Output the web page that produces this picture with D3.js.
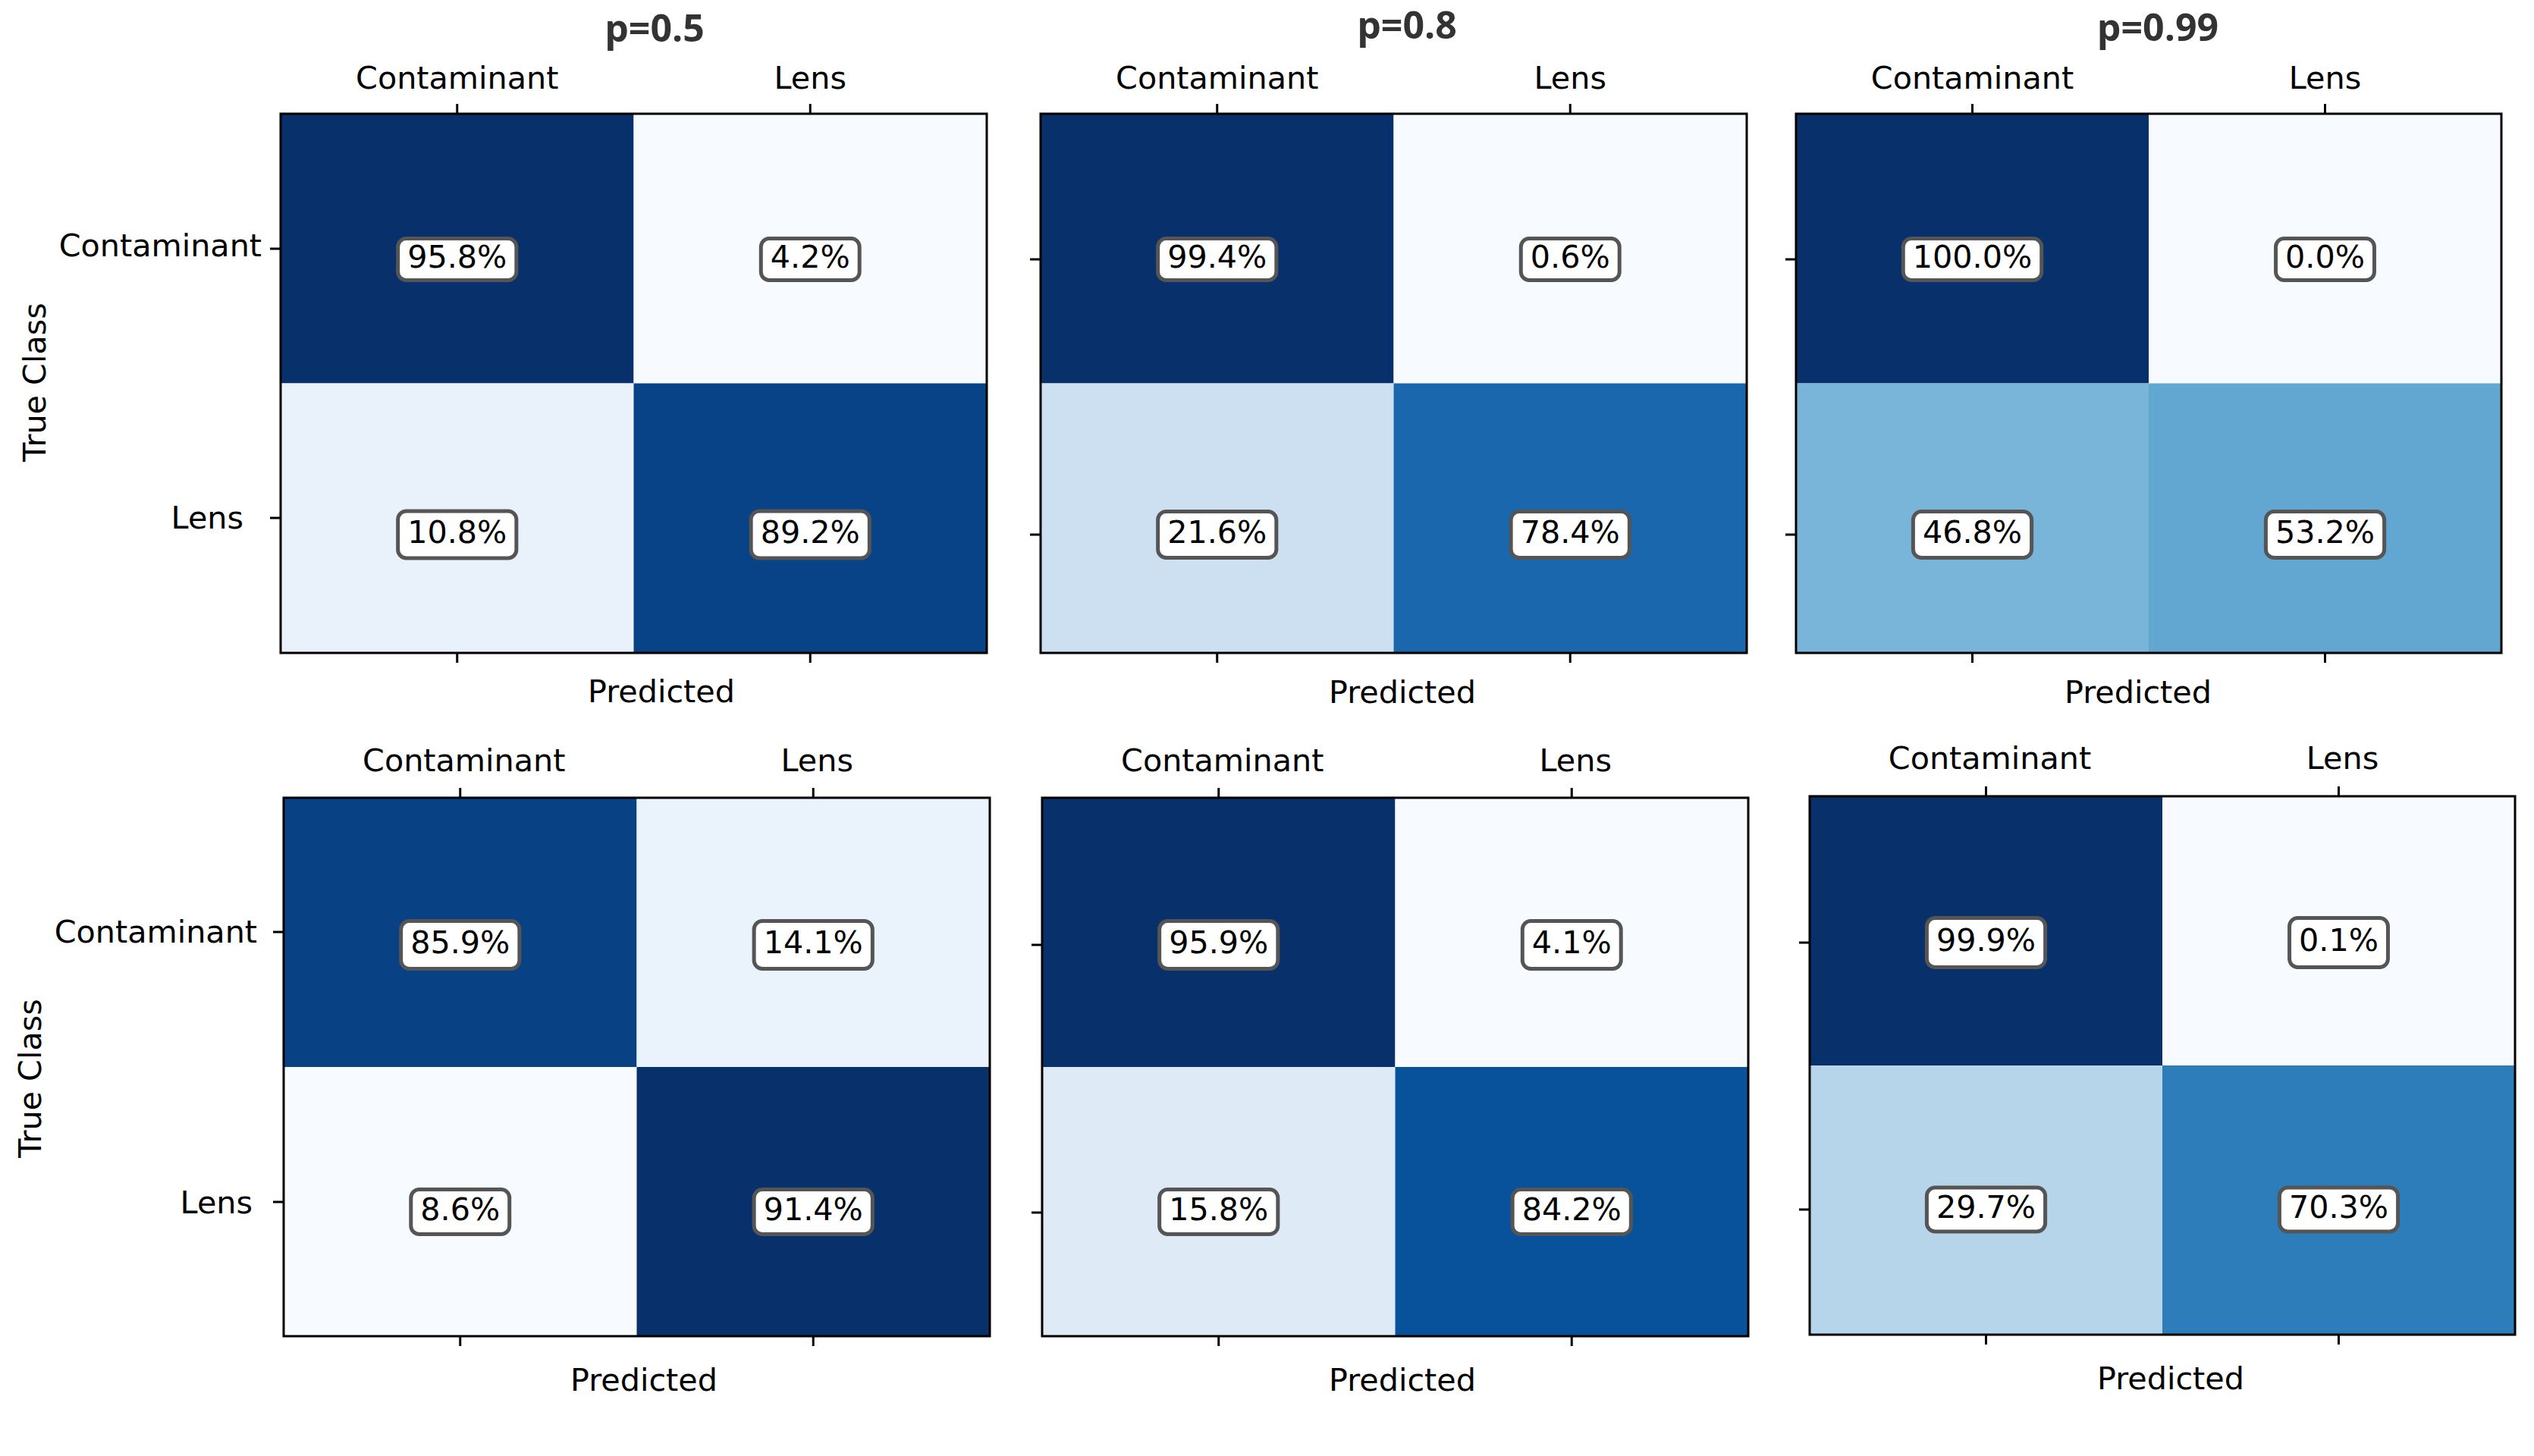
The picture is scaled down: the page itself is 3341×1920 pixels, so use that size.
<!DOCTYPE html>
<html>
<head>
<meta charset="utf-8">
<script src="https://cdnjs.cloudflare.com/ajax/libs/d3/7.8.5/d3.min.js"></script>
<style>
  body { margin: 0; background: #fff; }
  svg { display: block; }
  text { font-family: "DejaVu Sans"; fill: #000; }
  .title { font-family: "Open Sans"; font-weight: 700; fill: #333; }
</style>
</head>
<body>
<div id="container"></div>
<script>
// class names and panel titles
const classes = ['Contaminant', 'Lens'];
const titles = ['p=0.5', 'p=0.8', 'p=0.99'];

// percentages, read row by row
const topP05 = [95.8, 4.2, 10.8, 89.2];
const topP08 = [99.4, 0.6, 21.6, 78.4];
const topP099 = [100.0, 0.0, 46.8, 53.2];
const botP05 = [85.9, 14.1, 8.6, 91.4];
const botP08 = [95.9, 4.1, 15.8, 84.2];
const botP099 = [99.9, 0.1, 29.7, 70.3];

// where each panel sits on the page
const layout = [
  { values: topP05, title: 0, titleX: 863, titleY: 55, x: [370, 1301], y: [150, 861], yTicks: [328, 683], boxY: [342, 705], boxH: [60, 67],
    topLabelY: 117, topDx: 0, predX: 872, predY: 926, trueClass: [60, 504], yLabelRight: [345, 321], yLabelBase: [338, 697] },
  { values: topP08, title: 1, titleX: 1855, titleY: 51, x: [1372, 2303], y: [150, 861], yTicks: [342, 705], boxY: [342, 705], boxH: [60, 66],
    topLabelY: 117, topDx: 0, predX: 1849, predY: 927 },
  { values: topP099, title: 2, titleX: 2845, titleY: 54, x: [2368, 3298], y: [150, 861], yTicks: [342, 705], boxY: [342, 705], boxH: [60, 66],
    topLabelY: 117, topDx: 0, predX: 2819, predY: 927 },
  { values: botP05, x: [374, 1305], y: [1052, 1762], yTicks: [1229, 1585], boxY: [1246, 1598], boxH: [68, 64],
    topLabelY: 1017, topDx: 5, predX: 849, predY: 1834, trueClass: [54, 1422], yLabelRight: [339, 333], yLabelBase: [1243, 1600] },
  { values: botP08, x: [1374, 2305], y: [1052, 1762], yTicks: [1246, 1599], boxY: [1246, 1598], boxH: [68, 64],
    topLabelY: 1017, topDx: 5, predX: 1849, predY: 1834 },
  { values: botP099, x: [2386, 3316], y: [1050, 1760], yTicks: [1243, 1595], boxY: [1243, 1595], boxH: [70, 63],
    topLabelY: 1014, topDx: 5, predX: 2862, predY: 1832 }
];

const fontSize = 41.3;

const svg = d3.select('#container').append('svg')
  .attr('width', 3341)
  .attr('height', 1920);

// same as matplotlib Blues: straight segments between the nine brewer colours
const blues = d3.piecewise(d3.interpolateRgb, d3.schemeBlues[9]);

layout.forEach(p => {
  const g = svg.append('g');

  const cells = p.values.map((v, i) => ({
    value: v,
    col: classes[i % 2],
    row: classes[Math.floor(i / 2)]
  }));

  const x = d3.scaleBand().domain(classes).range(p.x);
  const y = d3.scaleBand().domain(classes).range(p.y);
  const yTick = d3.scalePoint().domain(classes).range(p.yTicks);
  const yBox = d3.scalePoint().domain(classes).range(p.boxY);
  const boxH = d3.scaleOrdinal().domain(classes).range(p.boxH);
  const color = d3.scaleSequential(blues).domain(d3.extent(p.values));

  g.selectAll('.cell')
    .data(cells)
    .enter()
    .append('rect')
    .attr('class', 'cell')
    .attr('x', d => x(d.col))
    .attr('y', d => y(d.row))
    .attr('width', x.bandwidth())
    .attr('height', y.bandwidth())
    .attr('fill', d => color(d.value));

  // frame
  g.append('rect')
    .attr('x', p.x[0])
    .attr('y', p.y[0])
    .attr('width', p.x[1] - p.x[0])
    .attr('height', p.y[1] - p.y[0])
    .attr('fill', 'none')
    .attr('stroke', '#000')
    .attr('stroke-width', 3);

  // top axis with the class names
  const top = g.append('g')
    .attr('transform', `translate(0,${p.y[0]})`)
    .call(d3.axisTop(x).tickSize(13).offset(0));
  top.select('.domain').remove();
  top.selectAll('line').attr('stroke-width', 3);
  top.selectAll('text')
    .attr('y', p.topLabelY - p.y[0])
    .attr('dx', p.topDx)
    .style('font-size', fontSize + 'px')
    .style('font-family', '"DejaVu Sans"');

  // bottom ticks carry no labels
  const bottom = g.append('g')
    .attr('transform', `translate(0,${p.y[1]})`)
    .call(d3.axisBottom(x).tickSize(13).tickFormat('').offset(0));
  bottom.select('.domain').remove();
  bottom.selectAll('line').attr('stroke-width', 3);

  const left = g.append('g')
    .attr('transform', `translate(${p.x[0]},0)`)
    .call(d3.axisLeft(yTick).tickSize(14).tickFormat('').offset(0));
  left.select('.domain').remove();
  left.selectAll('line').attr('stroke-width', 3);

  if (p.yLabelRight) {
    classes.forEach((c, i) => {
      g.append('text')
        .attr('x', p.yLabelRight[i])
        .attr('y', p.yLabelBase[i])
        .attr('text-anchor', 'end')
        .style('font-size', fontSize + 'px')
        .text(c);
    });
    g.append('text')
      .attr('transform', `translate(${p.trueClass[0]},${p.trueClass[1]}) rotate(-90)`)
      .attr('text-anchor', 'middle')
      .style('font-size', fontSize + 'px')
      .text('True Class');
  }

  g.append('text')
    .attr('x', p.predX)
    .attr('y', p.predY)
    .attr('text-anchor', 'middle')
    .style('font-size', fontSize + 'px')
    .text('Predicted');

  if (p.title !== undefined) {
    g.append('text')
      .attr('class', 'title')
      .attr('x', p.titleX)
      .attr('y', p.titleY)
      .attr('text-anchor', 'middle')
      .style('font-size', '50px')
      .text(titles[p.title]);
  }

  // percentage labels in rounded boxes
  const labels = g.selectAll('.label')
    .data(cells)
    .enter()
    .append('g')
    .attr('class', 'label')
    .attr('transform', d => `translate(${x(d.col) + x.bandwidth() / 2},${yBox(d.row)})`);

  const boxes = labels.append('rect')
    .attr('fill', '#fff')
    .attr('stroke', '#555')
    .attr('stroke-width', 5)
    .attr('rx', 11);

  labels.append('text')
    .attr('y', 11)
    .attr('text-anchor', 'middle')
    .style('font-size', fontSize + 'px')
    .text(d => d.value.toFixed(1) + '%');

  boxes.each(function (d) {
    const w = this.parentNode.querySelector('text').getComputedTextLength() + 25;
    const h = boxH(d.row) - 5;
    d3.select(this)
      .attr('x', -w / 2)
      .attr('y', -h / 2)
      .attr('width', w)
      .attr('height', h);
  });
});
</script>
</body>
</html>
